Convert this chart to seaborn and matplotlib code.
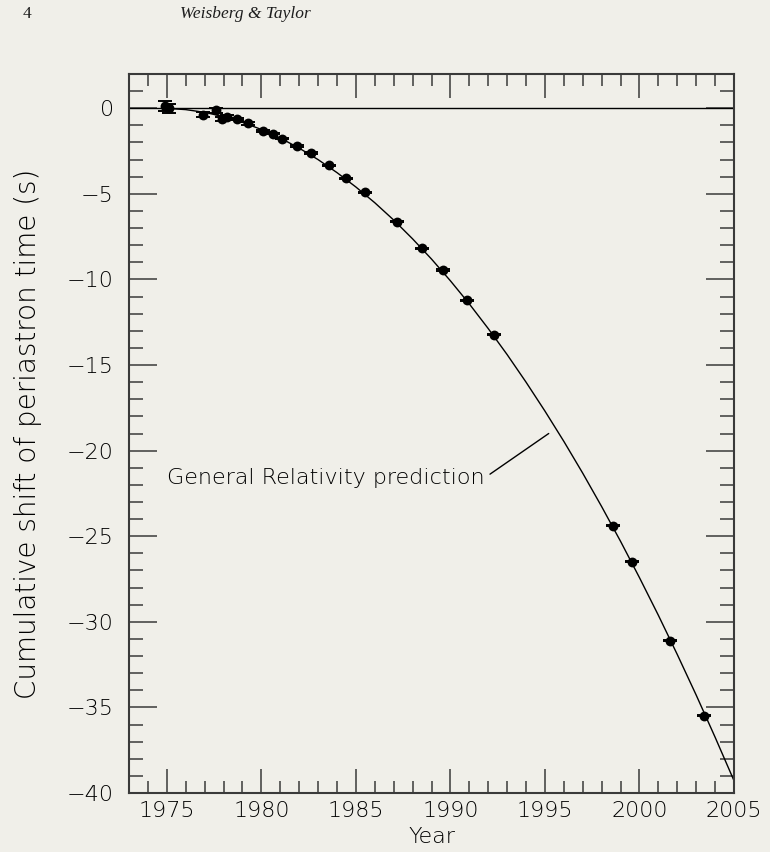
import matplotlib
matplotlib.use("Agg")
import matplotlib.pyplot as plt
from matplotlib.ticker import MultipleLocator
import seaborn as sns
import pandas as pd

# Observed cumulative shift of periastron time (PSR B1913+16)
obs_year = [1974.9, 1975.1, 1976.9, 1977.6, 1977.9, 1978.2, 1978.7, 1979.3,
            1980.1, 1980.6, 1981.1, 1981.9, 1982.6, 1983.6, 1984.5, 1985.5,
            1987.2, 1988.5, 1989.6, 1990.9, 1992.3, 1998.6, 1999.6, 2001.6,
            2003.4]
obs_shift = [0.15, 0.0, -0.37, -0.12, -0.62, -0.50, -0.63, -0.89,
             -1.32, -1.48, -1.77, -2.20, -2.61, -3.33, -4.08, -4.92,
             -6.63, -8.17, -9.45, -11.22, -13.24, -24.40, -26.50, -31.10,
             -35.50]
obs_err = [0.30, 0.25, 0.15, 0.15, 0.12, 0.10, 0.08, 0.06,
           0.05, 0.05, 0.04, 0.04, 0.04, 0.03, 0.03, 0.03,
           0.03, 0.03, 0.03, 0.03, 0.03, 0.03, 0.03, 0.03,
           0.03]

# General Relativity prediction, sampled yearly
gr_year = list(range(1975, 2006))
gr_shift = [-0.01, -0.08, -0.24, -0.49, -0.82, -1.24, -1.74, -2.33,
            -3.00, -3.76, -4.60, -5.52, -6.53, -7.63, -8.81, -10.08,
            -11.43, -12.87, -14.39, -16.00, -17.69, -19.46, -21.32, -23.27,
            -25.30, -27.42, -29.62, -31.91, -34.28, -36.74, -39.28]

x_ticks = [1975, 1980, 1985, 1990, 1995, 2000, 2005]
y_ticks = [0, -5, -10, -15, -20, -25, -30, -35, -40]

obs = pd.DataFrame({"year": obs_year, "shift": obs_shift, "err": obs_err})
gr = pd.DataFrame({"year": gr_year, "shift": gr_shift})

bg = "#f0efe9"
ink = "#3a3a3a"
txt = "#000000"
sns.set_theme(style="ticks")
plt.rcParams["font.family"] = ["DejaVu Sans"]
plt.rcParams["font.weight"] = "light"
plt.rcParams["axes.labelweight"] = "light"

fig = plt.figure(figsize=(7.7, 8.52), dpi=100, facecolor=bg)
ax = fig.add_axes([129 / 770, 1 - 793 / 852, (734 - 129) / 770, (793 - 74) / 852])
ax.set_facecolor(bg)

# zero reference line
ax.axhline(0, color="black", lw=1.0, zorder=1)

sns.lineplot(data=gr, x="year", y="shift", color="black", lw=1.0,
             ax=ax, zorder=2, sort=True)

ax.errorbar(obs["year"], obs["shift"], yerr=obs["err"], fmt="none",
            ecolor="black", elinewidth=1.4, capsize=5, capthick=1.4, zorder=3)
sns.scatterplot(data=obs, x="year", y="shift", color="black", s=50,
                edgecolor="black", linewidth=0, ax=ax, zorder=4)

ax.set_xlim(1973, 2005)
ax.set_ylim(-40, 2)
ax.set_xticks(x_ticks)
ax.set_yticks(y_ticks)
ax.xaxis.set_minor_locator(MultipleLocator(1))
ax.yaxis.set_minor_locator(MultipleLocator(1))

ax.tick_params(axis="both", which="both", direction="in", top=True, right=True,
               color=ink, width=1.1, labelcolor=txt, labelsize=16)
ax.tick_params(axis="x", which="major", length=17, pad=6)
ax.tick_params(axis="x", which="minor", length=8.6)
ax.tick_params(axis="y", which="major", length=20, pad=11)
ax.tick_params(axis="y", which="minor", length=10)

for sp in ax.spines.values():
    sp.set_color(ink)
    sp.set_linewidth(1.5)

ax.set_xlabel("Year", fontsize=16, fontweight="light", color=txt, labelpad=4)
ax.set_ylabel("Cumulative shift of periastron time (s)", fontsize=20,
              fontweight="light", color=txt, labelpad=18)

ax.annotate("General Relativity prediction", xy=(1995.2, -19.0),
            xytext=(1975.0, -21.6), ha="left", va="center", fontsize=16,
            fontweight="light", color=txt,
            arrowprops=dict(arrowstyle="-", color="black", lw=1.0,
                            relpos=(1.0, 0.5), shrinkA=2, shrinkB=0))

# running head
fig.text(27 / 770, 1 - 14 / 852, "4", ha="center", va="center",
         fontsize=12.5, family="Liberation Serif", weight="normal", color="#1e1e1e")
fig.text(180 / 770, 1 - 14 / 852, "Weisberg & Taylor", ha="left", va="center",
         fontsize=12.5, family="Liberation Serif", weight="normal",
         style="italic", color="#1e1e1e")

fig.savefig("out.png", dpi=100, facecolor=bg)
